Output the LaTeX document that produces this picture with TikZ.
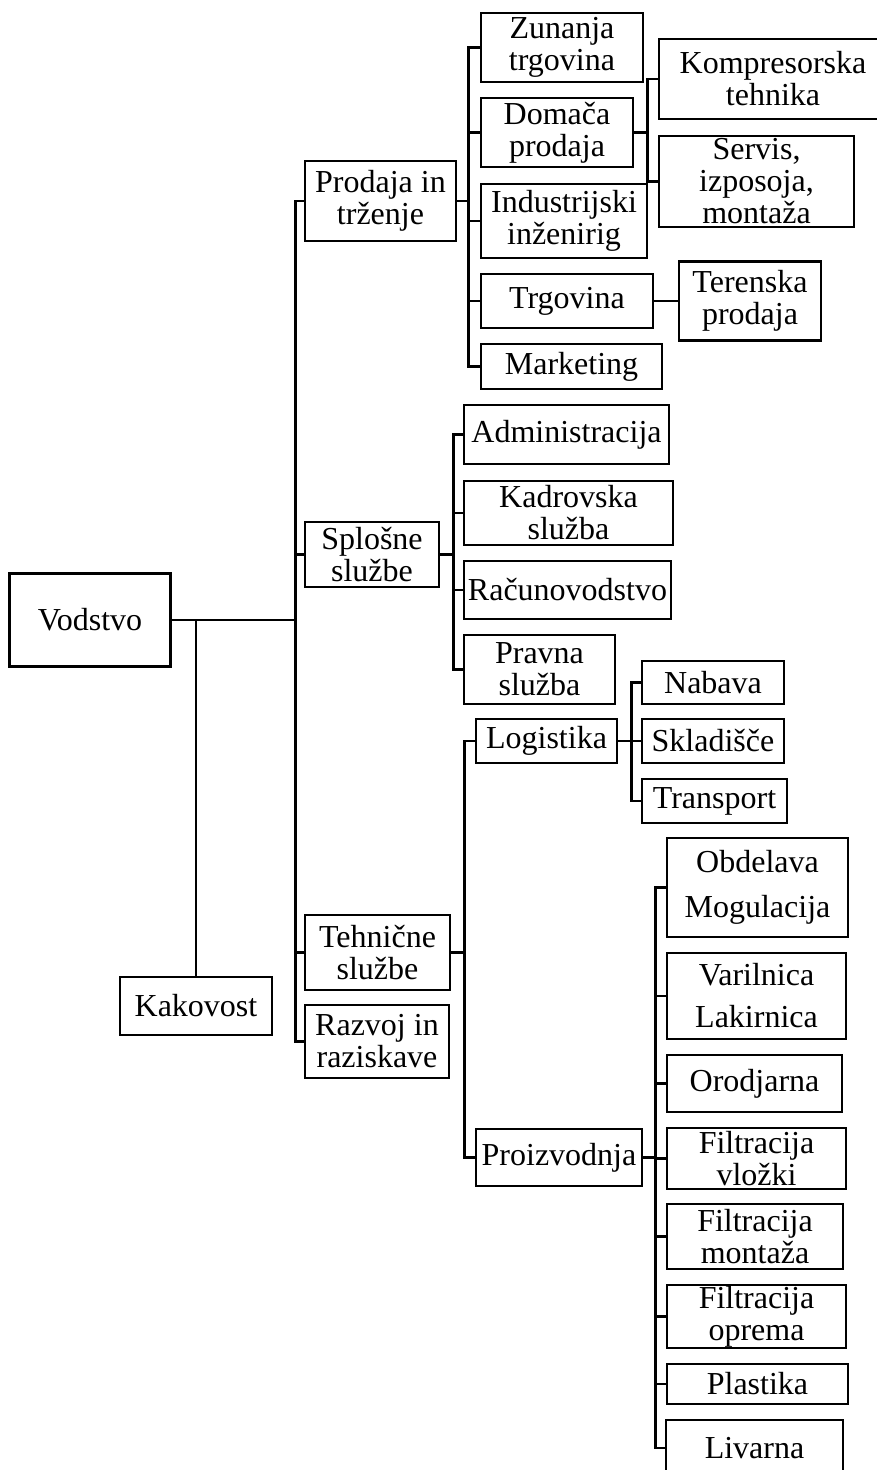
\documentclass[tikz,border=0pt]{standalone}
\usepackage{fontspec}
\setmainfont{Liberation Serif}
\usepackage{tikz}
\usetikzlibrary{positioning,calc}
\newcommand{\orgfont}{\fontsize{32}{32}\selectfont}
\tikzset{
  unit/.style={draw, line width=2.6pt, align=center, inner sep=0pt, font=\orgfont},
  sz/.style 2 args={minimum width=#1pt, minimum height=#2pt},
  link/.style={line width=2.7pt},
}

\begin{document}
\begin{tikzpicture}[x=1pt, y=-1pt]
  \useasboundingbox (0,0) rectangle (876,1470);
  % top level
  \node[unit, sz={161}{93}] (vod) at (90,620) {Vodstvo};
  \node[unit, sz={152}{58}] (kak) at (196,1006) {Kakovost};
  \node[unit, sz={151}{80}] (prod) at (380.5,201) {Prodaja in\\trženje};
  \node[unit, sz={134}{65}] (spl) at (372,554.5) {Splošne\\službe};
  \node[unit, sz={145}{75}] (teh) at (377.5,952.5) {Tehnične\\službe};
  \node[unit, sz={144}{73}] (raz) at (377,1041.5) {Razvoj in\\raziskave};
  % sales
  \node[unit, sz={162}{69}] (zun) at (562,47.5) {Zunanja\\trgovina};
  \node[unit, sz={152}{69}] (dom) at (557,132.5) {Domača\\prodaja};
  \node[unit, sz={166}{74}] (ind) at (564,221) {Industrijski\\inženirig};
  \node[unit, sz={172}{54}] (trg) at (567,301) {Trgovina};
  \node[unit, sz={181}{45}] (mkt) at (571.5,366.5) {Marketing};
  \node[unit, sz={228}{80}] (kom) at (773,79) {Kompresorska\\tehnika};
  \node[unit, sz={195}{91}] (ser) at (756.5,181.5) {Servis,\\izposoja,\\montaža};
  \node[unit, sz={142}{79}] (ter) at (750,301) {Terenska\\prodaja};
  % general services
  \node[unit, sz={205}{59}] (adm) at (566.5,434.5) {Administracija};
  \node[unit, sz={209}{64}] (kad) at (568.5,513) {Kadrovska\\služba};
  \node[unit, sz={207}{58}] (rac) at (567.5,590) {Računovodstvo};
  \node[unit, sz={151}{69}] (pra) at (539.5,669.5) {Pravna\\služba};
  % technical services
  \node[unit, sz={141}{44}] (log) at (546.5,741) {Logistika};
  \node[unit, sz={166}{57}] (pro) at (559,1157.5) {Proizvodnja};
  \node[unit, sz={142}{43}] (nab) at (713,682.5) {Nabava};
  \node[unit, sz={142}{44}] (skl) at (713,741) {Skladišče};
  \node[unit, sz={145}{44}] (tra) at (714.5,801) {Transport};
  \node[unit, sz={181}{99}] (obd) at (757.5,887.5) {Obdelava\\[13pt]Mogulacija};
  \node[unit, sz={179}{86}] (var) at (756.5,996) {Varilnica\\[10pt]Lakirnica};
  \node[unit, sz={175}{57}] (oro) at (754.5,1083.5) {Orodjarna};
  \node[unit, sz={179}{61}] (fv) at (756.5,1158.5) {Filtracija\\vložki};
  \node[unit, sz={176}{65}] (fm) at (755,1236.5) {Filtracija\\montaža};
  \node[unit, sz={179}{63}] (fo) at (756.5,1316.5) {Filtracija\\oprema};
  \node[unit, sz={181}{40}] (pla) at (757.5,1384) {Plastika};
  \node[unit, sz={177}{56}] (liv) at (754.5,1448) {Livarna};

  % connectors
  \draw[link] (vod.east) -- ++(123.5,0) |- (prod.west);
  \draw[link] (vod.east) -- ++(123.5,0) |- (spl.west);
  \draw[link] (vod.east) -- ++(123.5,0) |- (teh.west);
  \draw[link] (vod.east) -- ++(123.5,0) |- (raz.west);
  \draw[link] (vod.east -| kak.north) -- (kak.north);

  \draw[link] (prod.east) -- ++(11,0) |- (zun.west);
  \draw[link] (prod.east) -- ++(11,0) |- (dom.west);
  \draw[link] (prod.east) -- ++(11,0) |- (ind.west);
  \draw[link] (prod.east) -- ++(11,0) |- (trg.west);
  \draw[link] (prod.east) -- ++(11,0) |- (mkt.west);
  \draw[link] (dom.east) -- ++(13.5,0) |- (kom.west);
  \draw[link] (dom.east) -- ++(13.5,0) |- (ser.west);
  \draw[link] (trg.east) -- (ter.west);

  \draw[link] (spl.east) -- ++(13,0) |- (adm.west);
  \draw[link] (spl.east) -- ++(13,0) |- (kad.west);
  \draw[link] (spl.east) -- ++(13,0) |- (rac.west);
  \draw[link] (spl.east) -- ++(13,0) |- (pra.west);

  \draw[link] (teh.east) -- ++(13,0) |- (log.west);
  \draw[link] (teh.east) -- ++(13,0) |- (pro.west);
  \draw[link] (log.east) -- ++(13,0) |- (nab.west);
  \draw[link] (log.east) -- ++(13,0) |- (skl.west);
  \draw[link] (log.east) -- ++(13,0) |- (tra.west);

  \draw[link] (pro.east) -- ++(12.5,0) |- (obd.west);
  \draw[link] (pro.east) -- ++(12.5,0) |- (var.west);
  \draw[link] (pro.east) -- ++(12.5,0) |- (oro.west);
  \draw[link] (pro.east) -- ++(12.5,0) |- (fv.west);
  \draw[link] (pro.east) -- ++(12.5,0) |- (fm.west);
  \draw[link] (pro.east) -- ++(12.5,0) |- (fo.west);
  \draw[link] (pro.east) -- ++(12.5,0) |- (pla.west);
  \draw[link] (pro.east) -- ++(12.5,0) |- (liv.west);
\end{tikzpicture}
\end{document}
